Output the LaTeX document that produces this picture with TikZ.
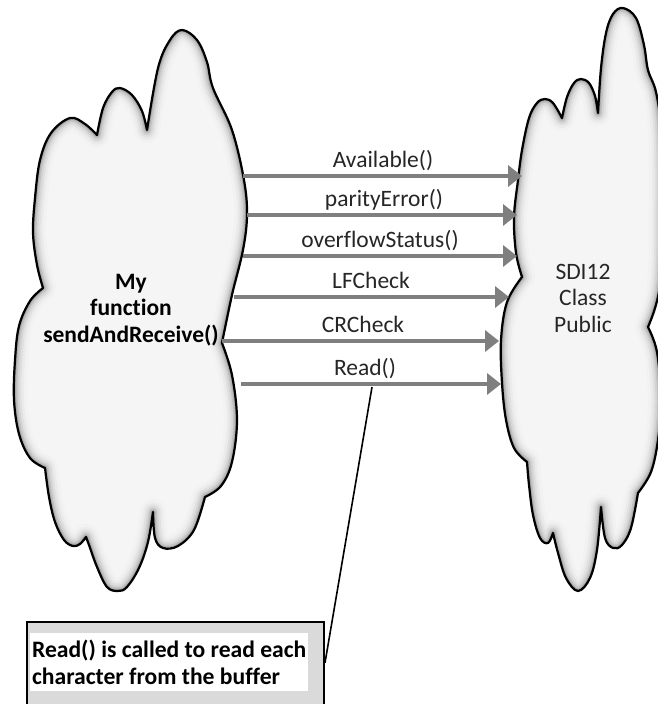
\documentclass[tikz,border=0pt]{standalone}
\usepackage{fontspec}
\setmainfont{Carlito}[Ligatures=CommonOff]
\usetikzlibrary{arrows.meta}

\definecolor{flowgray}{HTML}{7F7F7F}
\definecolor{notegray}{HTML}{DADADA}
\definecolor{labelink}{HTML}{262626}

\tikzset{
  % outline of the caller cloud (image-style coordinates, y grows downwards)
  leftcloud/.style={insert path={
    (147,130)
    -- plot[smooth,tension=0.6] coordinates {(147,130) (158,68) (170,40) (182,30) (197,40) (207,62) (213,88) (232,130) (244,180) (247,215) (243,250) (232,295) (222,343)}
    -- plot[smooth,tension=0.6] coordinates {(222,343) (232,375) (237,420) (232,462) (221,486) (205,497)}
    -- plot[smooth,tension=0.6] coordinates {(205,497) (194,530) (178,546) (163,548) (155,538) (153,512)}
    -- plot[smooth,tension=0.6] coordinates {(153,512) (148,542) (139,568) (127,587) (118,591) (107,587) (97,567) (89,545) (86,537)}
    -- plot[smooth,tension=0.6] coordinates {(86,537) (80,544) (73,546) (64,540) (55,522) (49,497) (45,468)}
    -- plot[smooth,tension=0.6] coordinates {(45,468) (30,458) (19,434) (14,400) (15,360) (19,326) (30,301) (43,288)}
    -- plot[smooth,tension=0.6] coordinates {(43,288) (37,265) (33,233) (35,198) (40,160) (51,133) (70,118) (85,124) (97,135)}
    -- plot[smooth,tension=0.6] coordinates {(97,135) (103,108) (112,92) (120,88) (132,95) (142,111) (147,130)}
    -- cycle}},
  % outline of the class cloud
  rightcloud/.style={insert path={
    (598,113)
    -- plot[smooth,tension=0.6] coordinates {(598,113) (601,68) (606,33) (613,14) (623,8) (636,18) (644,45) (648,70) (656,92) (661,130) (662,200) (660,285) (648,327)}
    -- plot[smooth,tension=0.6] coordinates {(648,327) (657,352) (661,400) (658,440) (651,472) (638,493)}
    -- plot[smooth,tension=0.6] coordinates {(638,493) (631,528) (622,545) (613,548) (605,538) (601,507)}
    -- plot[smooth,tension=0.6] coordinates {(601,507) (597,550) (590,578) (578,591) (566,578) (558,553) (553,533)}
    -- plot[smooth,tension=0.6] coordinates {(553,533) (548,543) (540,538) (533,515) (529,485) (527,462)}
    -- plot[smooth,tension=0.6] coordinates {(527,462) (514,448) (506,420) (502,383) (501,340) (507,302) (522,277)}
    -- plot[smooth,tension=0.6] coordinates {(522,277) (516,253) (514,217) (518,180) (522,150) (529,118) (537,103) (545,99) (553,103) (562,118)}
    -- plot[smooth,tension=0.6] coordinates {(562,118) (567,97) (574,83) (581,79) (589,83) (595,96) (598,113)}
    -- cycle}},
  flow/.style={draw=flowgray, line width=4.2pt, -{Triangle[length=14pt,width=21pt]}},
  calllabel/.style={font=\fontsize{23.5}{27}\selectfont, text=labelink, inner sep=0pt, anchor=base},
  cloudlabel/.style={font=\fontsize{23.5}{26.5}\selectfont, align=center, inner sep=0pt},
}

% a cloud with a soft grey rim on the inside and a black outline
\newcommand\shadedcloud[1]{%
  \begin{scope}
    \clip[#1];
    \fill[fill=black!4, #1];
    \foreach \w/\c in {26/5,20/8,15/12,11/17,7.5/24,4.5/32,2.5/42}{%
      \draw[line width=\w pt, draw=black!\c, line join=round, #1];}
  \end{scope}
  \draw[line width=2.2pt, line join=round, #1];}

\begin{document}
\begin{tikzpicture}[x=1pt, y=-1pt]
  \useasboundingbox (0,0) rectangle (658,704);
  \fill[white] (0,0) rectangle (658,704);

  \shadedcloud{leftcloud}
  \shadedcloud{rightcloud}

  \node[cloudlabel, font=\fontsize{23.5}{26.5}\selectfont\bfseries] (caller) at (131,310) {My\\function\\sendAndReceive()};
  \node[cloudlabel, text=labelink] (classbox) at (583,298) {SDI12\\Class\\Public};

  % calls from the function to the public interface
  \coordinate (a1) at (243,176); \coordinate (b1) at (522,176);
  \coordinate (a2) at (247,215); \coordinate (b2) at (517,215);
  \coordinate (a3) at (243,256); \coordinate (b3) at (517,256);
  \coordinate (a4) at (234,297); \coordinate (b4) at (509,297);
  \coordinate (a5) at (222,341); \coordinate (b5) at (499,341);
  \coordinate (a6) at (241,384); \coordinate (b6) at (501,384);

  \draw[flow] (a1) -- (b1);
  \draw[flow] (a2) -- (b2);
  \draw[flow] (a3) -- (b3);
  \draw[flow] (a4) -- (b4);
  \draw[flow] (a5) -- (b5);
  \draw[flow] (a6) -- (b6);

  \node[calllabel] (l1) at (383,167) {Available()};
  \node[calllabel] (l2) at (384,206) {parityError()};
  \node[calllabel] (l3) at (380,247) {overflowStatus()};
  \node[calllabel] (l4) at (371,288) {LFCheck};
  \node[calllabel] (l5) at (363,332) {CRCheck};
  \node[calllabel] (l6) at (365,375) {Read()};

  % explanatory note
  \node[draw=black, line width=2pt, fill=notegray, minimum width=297pt, minimum height=92pt,
        anchor=north west, inner sep=0pt] (box) at (26,621) {};
  \node[fill=white, anchor=north west, minimum height=58pt, minimum width=278pt, inner xsep=1pt,
        inner ysep=0pt, align=left, font=\fontsize{23.6}{27}\selectfont\bfseries] (note) at (30,633)
        {Read() is called to read each\\character from the buffer};

  \coordinate (rd) at (372,387);
  \draw[line width=1.6pt] (rd) -- (box.2);
\end{tikzpicture}
\end{document}
